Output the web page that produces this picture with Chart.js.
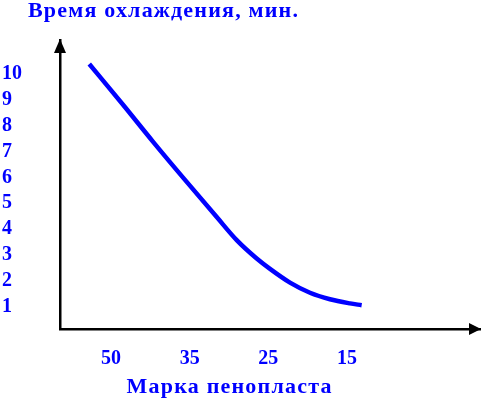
<!DOCTYPE html>
<html>
<head>
<meta charset="utf-8">
<script src="https://cdn.jsdelivr.net/npm/chart.js@4/dist/chart.umd.min.js"></script>
<style>
  html, body { margin: 0; padding: 0; background: #fff; }
  #wrap { width: 481px; height: 399px; position: relative; }
</style>
</head>
<body>
<div id="wrap"><canvas id="coolChart"></canvas></div>
<script>
// données
const xLabels = ['50', '35', '25', '15'];
const yTicks = [1, 2, 3, 4, 5, 6, 7, 8, 9, 10];
// position sur l'axe (index des marques, fractionnaire) et temps, min
const curveX = [-0.276, 0.156, 0.538, 0.919, 1.344, 1.598, 1.852, 2.021, 2.275, 2.529, 2.783, 3.038, 3.186];
const curveY = [10.37, 8.79, 7.36, 5.98, 4.47, 3.58, 2.87, 2.47, 1.94, 1.55, 1.30, 1.14, 1.07];

const mainTitle = 'Время охлаждения, мин.';
const xTitle = 'Марка пенопласта';

const BLUE = '#0000ff';
const SERIF = "'Liberation Serif', 'Times New Roman', serif";

/* flèches au bout des axes + titres */
const axisDecor = {
  id: 'axisDecor',
  afterDraw(chart) {
    const ctx = chart.ctx;
    const a = chart.chartArea;
    ctx.save();
    ctx.fillStyle = '#000';
    // flèche verticale
    ctx.beginPath();
    ctx.moveTo(a.left, a.top - 1);
    ctx.lineTo(a.left - 6, a.top + 13);
    ctx.lineTo(a.left + 6, a.top + 13);
    ctx.closePath();
    ctx.fill();
    // flèche horizontale
    ctx.beginPath();
    ctx.moveTo(a.right + 1, a.bottom);
    ctx.lineTo(a.right - 11, a.bottom - 6);
    ctx.lineTo(a.right - 11, a.bottom + 6);
    ctx.closePath();
    ctx.fill();

    ctx.fillStyle = BLUE;
    ctx.textBaseline = 'alphabetic';
    ctx.letterSpacing = '1.2px';
    ctx.font = 'bold 22px ' + SERIF;
    ctx.textAlign = 'left';
    ctx.fillText(mainTitle, 28, 17);

    const xs = chart.scales.x;
    const mid = xs.getPixelForValue((xLabels.length - 1) / 2);
    ctx.textAlign = 'center';
    ctx.fillText(xTitle, mid + 0.6, 393);
    ctx.restore();
  }
};

const points = curveX.map((x, i) => ({ x: x, y: curveY[i] }));

new Chart(document.getElementById('coolChart'), {
  type: 'line',
  data: {
    datasets: [{
      data: points,
      borderColor: BLUE,
      borderWidth: 4.5,
      borderCapStyle: 'butt',
      cubicInterpolationMode: 'monotone',
      pointRadius: 0,
      fill: false
    }]
  },
  options: {
    responsive: true,
    maintainAspectRatio: false,
    animation: false,
    layout: { padding: { top: 40, left: 2, right: 1, bottom: 0 } },
    plugins: { legend: { display: false }, tooltip: { enabled: false }, title: { display: false } },
    scales: {
      x: {
        type: 'linear',
        min: -0.648,
        max: 4.69,
        grid: { display: false, drawTicks: false },
        border: { display: true, color: '#000', width: 2.5 },
        afterBuildTicks: s => { s.ticks = xLabels.map((_, i) => ({ value: i })); },
        afterFit: s => { s.height = 70; },
        ticks: {
          color: BLUE,
          padding: 18,
          maxRotation: 0,
          autoSkip: false,
          font: { family: SERIF, size: 20, weight: 'bold' },
          callback: v => xLabels[v]
        }
      },
      y: {
        min: 0.152,
        max: 11.297,
        grid: { display: false, drawTicks: false },
        border: { display: true, color: '#000', width: 2.5 },
        afterBuildTicks: s => { s.ticks = yTicks.map(v => ({ value: v })); },
        afterFit: s => { s.width = 58; },
        ticks: {
          color: BLUE,
          crossAlign: 'far',
          autoSkip: false,
          font: { family: SERIF, size: 20, weight: 'bold' },
          callback: v => String(v)
        }
      }
    }
  },
  plugins: [axisDecor]
});
</script>
</body>
</html>
